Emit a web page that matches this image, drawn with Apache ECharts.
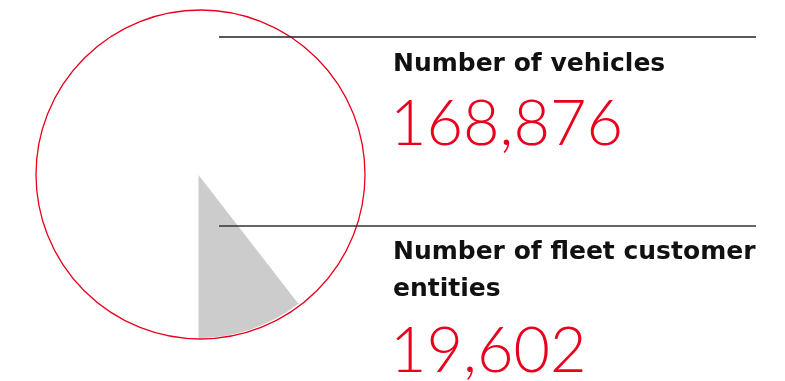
<!DOCTYPE html>
<html>
<head>
<meta charset="utf-8">
<script src="https://cdn.jsdelivr.net/npm/echarts@6/dist/echarts.min.js"></script>
<style>
  html, body { margin: 0; padding: 0; background: #fff; }
  #chart { width: 785px; height: 381px; }
</style>
</head>
<body>
<div id="chart"></div>
<script>
const labels = ['Number of vehicles', 'Number of fleet customer\nentities']
const values = ['168,876', '19,602']
// share of the circle filled grey
const shareNames = ['fleet', 'rest']
const shareValues = [10.5, 89.5]

const RED = '#e8001c'
const chart = echarts.init(document.getElementById('chart'))

const option = {
  animation: false,
  series: [
    {
      type: 'pie',
      center: [198.5, 175],
      radius: [0, 163],
      startAngle: 270,
      clockwise: false,
      silent: true,
      label: { show: false },
      labelLine: { show: false },
      data: shareNames.map((n, i) => ({
        name: n,
        value: shareValues[i],
        itemStyle: { color: i === 0 ? '#cccccc' : 'rgba(0,0,0,0)', borderWidth: 0 }
      }))
    },
    {
      type: 'pie',
      center: [200.5, 174.5],
      radius: [0, 164.5],
      silent: true,
      label: { show: false },
      labelLine: { show: false },
      data: [{ value: 1, itemStyle: { color: 'rgba(0,0,0,0)', borderColor: RED, borderWidth: 1.3 } }]
    }
  ],
  graphic: [
    { type: 'line', shape: { x1: 219, y1: 37, x2: 756, y2: 37 }, style: { stroke: '#222', lineWidth: 1.3 }, z: 10 },
    { type: 'line', shape: { x1: 219, y1: 226, x2: 756, y2: 226 }, style: { stroke: '#333', lineWidth: 1.3 }, z: 10 },
    {
      type: 'text', x: 393, y: 46,
      style: { text: labels[0], font: 'bold 25px "DejaVu Sans"', fill: '#111', lineHeight: 37 }
    },
    {
      type: 'text', x: 390, y: 93,
      style: { text: values[0], font: '300 63px Lato', fill: RED }
    },
    {
      type: 'text', x: 393, y: 234,
      style: { text: labels[1], font: 'bold 25px "DejaVu Sans"', fill: '#111', lineHeight: 37 }
    },
    {
      type: 'text', x: 390, y: 320,
      style: { text: values[1], font: '300 63px Lato', fill: RED }
    }
  ]
}

chart.setOption(option)
</script>
</body>
</html>
